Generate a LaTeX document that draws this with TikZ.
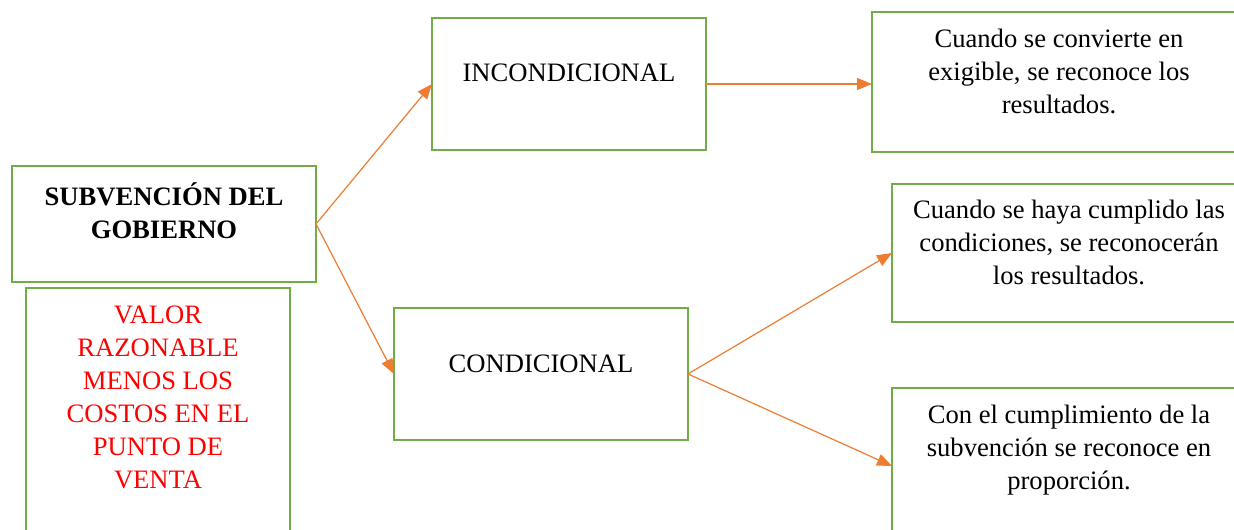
\documentclass[tikz,border=0pt]{standalone}
\usepackage{fontspec}
\setmainfont{Liberation Serif}
\usetikzlibrary{arrows.meta}
\definecolor{boxgreen}{RGB}{112,173,71}
\definecolor{arrorange}{RGB}{237,125,49}
\newcommand{\boxtext}[4]{\parbox[c][#2][t]{#1}{\centering\vspace*{#3}\strut #4}}
\tikzset{
  box/.style={draw=boxgreen, line width=1.2pt, inner sep=0pt, outer sep=0pt,
    font=\fontsize{13.3pt}{16.5pt}\selectfont},
  conn/.style={draw=arrorange, line width=0.6pt, -{Triangle[length=7.5pt,width=6pt]}}
}
\begin{document}
\begin{tikzpicture}[x=0.5pt,y=-0.5pt]
\clip (0,0) rectangle (1234,529);
\fill[white] (0,0) rectangle (1234,529);
\node[box] (subv) at (164,224) {\boxtext{152pt}{58pt}{7.95pt}{\bfseries SUBVENCIÓN DEL\\GOBIERNO}};
\node[box, text=red] (valor) at (158,416.5) {\boxtext{132pt}{128.5pt}{5.95pt}{VALOR\\RAZONABLE\\MENOS LOS\\COSTOS EN EL\\PUNTO DE\\VENTA}};
\node[box] (inc) at (569,84) {\boxtext{137pt}{66pt}{20.45pt}{INCONDICIONAL}};
\node[box] (cond) at (541,374) {\boxtext{147pt}{66pt}{20.45pt}{CONDICIONAL}};
\node[box] (r1) at (1059,82) {\boxtext{187pt}{70pt}{6.45pt}{Cuando se convierte en\\exigible, se reconoce los\\resultados.}};
\node[box] (r2) at (1069,253) {\boxtext{177pt}{69pt}{5.45pt}{Cuando se haya cumplido las\\condiciones, se reconocerán\\los resultados.}};
\node[box] (r3) at (1069,466) {\boxtext{177pt}{78pt}{5.95pt}{Con el cumplimiento de la\\subvención se reconoce en\\proporción.}};
\draw[conn] (subv.east) -- (inc.west);
\draw[conn] (subv.east) -- (cond.west);
\draw[conn] (inc.east) -- (inc.east -| r1.west);
\draw[conn] (cond.east) -- (r2.west);
\draw[conn] (cond.east) -- (r3.west);
\end{tikzpicture}
\end{document}
